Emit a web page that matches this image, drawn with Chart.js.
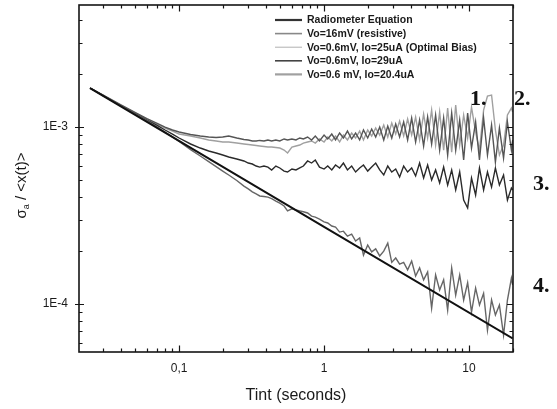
<!DOCTYPE html>
<html><head><meta charset="utf-8">
<script src="https://cdn.jsdelivr.net/npm/chart.js@4.4.0/dist/chart.umd.min.js"></script>
<style>html,body{margin:0;padding:0;background:#fff}#wrap{width:557px;height:409px}</style>
</head><body><div id="wrap"><canvas id="c" width="557" height="409"></canvas></div>
<script>
// integration times (s)
const tint = [0.0243, 0.03, 0.04, 0.05, 0.06, 0.07, 0.08, 0.09, 0.1, 0.12, 0.14, 0.16, 0.18, 0.2, 0.22, 0.25, 0.28,
  0.3, 0.32, 0.34, 0.36, 0.385, 0.41, 0.435, 0.465, 0.495, 0.53,
  0.56, 0.6, 0.64, 0.68, 0.72, 0.77, 0.82, 0.87, 0.93, 1.0,
  1.06, 1.13, 1.2, 1.28, 1.36, 1.45, 1.55, 1.65, 1.76, 1.87,
  2.0, 2.13, 2.27, 2.42, 2.58, 2.75, 2.93, 3.12, 3.32, 3.54,
  3.77, 4.02, 4.28, 4.56, 4.86, 5.18, 5.52, 5.88, 6.27, 6.68,
  7.12, 7.59, 8.09, 8.62, 9.18, 9.78, 10.4, 11.1, 11.8, 12.6,
  13.4, 14.3, 15.2, 16.2, 17.3, 18.4, 19.6, 20];

const radiometerT = [0.0243, 1, 20];
const radiometerEq = [1.661e-3, 2.73e-4, 6.4e-5];

const vo16 = [1.661e-3, 1.516e-3, 1.331e-3, 1.207e-3, 1.117e-3, 1.053e-3, 1.000e-3, 9.62e-4, 9.37e-4, 9.07e-4, 8.90e-4, 8.78e-4, 8.73e-4, 8.78e-4, 8.90e-4, 8.67e-4, 8.50e-4,
  8.45e-4, 8.34e-4, 8.34e-4, 8.40e-4, 8.34e-4, 8.45e-4, 8.34e-4, 8.45e-4, 8.34e-4, 8.56e-4,
  8.45e-4, 8.56e-4, 8.45e-4, 8.67e-4, 8.56e-4, 8.78e-4, 8.45e-4, 8.90e-4, 8.34e-4, 9.01e-4,
  8.56e-4, 9.13e-4, 8.45e-4, 9.25e-4, 8.67e-4, 9.49e-4, 8.56e-4, 9.25e-4, 8.45e-4, 9.62e-4,
  8.67e-4, 9.74e-4, 8.78e-4, 1.000e-3, 8.45e-4, 1.013e-3, 8.67e-4, 1.040e-3, 8.78e-4, 1.067e-3,
  8.45e-4, 1.124e-3, 8.23e-4, 1.095e-3, 7.81e-4, 1.139e-3, 8.02e-4, 1.169e-3, 7.41e-4, 1.124e-3,
  6.95e-4, 1.199e-3, 7.41e-4, 1.095e-3, 6.51e-4, 1.199e-3, 7.61e-4, 1.067e-3, 6.51e-4, 1.124e-3,
  6.95e-4, 1.026e-3, 6.34e-4, 9.87e-4, 6.68e-4, 1.067e-3, 7.41e-4, 8.45e-4];

const vo25 = [1.661e-3, 1.506e-3, 1.314e-3, 1.184e-3, 1.088e-3, 1.006e-3, 9.37e-4, 8.78e-4, 8.28e-4, 7.46e-4, 6.86e-4, 6.38e-4, 5.98e-4, 5.64e-4, 5.36e-4, 4.99e-4, 4.64e-4,
  4.47e-4, 4.30e-4, 4.19e-4, 4.08e-4, 4.05e-4, 4.02e-4, 3.94e-4, 3.82e-4, 3.72e-4, 3.58e-4,
  3.36e-4, 3.45e-4, 3.40e-4, 3.36e-4, 3.32e-4, 3.27e-4, 3.14e-4, 3.10e-4, 3.02e-4, 2.91e-4,
  2.87e-4, 2.76e-4, 2.72e-4, 2.55e-4, 2.58e-4, 2.42e-4, 2.48e-4, 2.27e-4, 2.36e-4, 1.89e-4,
  2.155e-4, 1.97e-4, 2.05e-4, 1.87e-4, 1.99e-4, 2.21e-4, 1.72e-4, 1.82e-4, 1.68e-4, 1.72e-4,
  1.56e-4, 1.75e-4, 1.44e-4, 1.60e-4, 1.37e-4, 1.52e-4, 9.49e-5, 1.46e-4, 1.20e-4, 1.37e-4,
  9.25e-5, 1.60e-4, 1.124e-4, 1.46e-4, 1.054e-4, 1.32e-4, 9.01e-5, 1.23e-4, 9.87e-5, 1.15e-4,
  7.13e-5, 1.054e-4, 8.67e-5, 9.87e-5, 6.68e-5, 1.054e-4, 1.40e-4, 1.28e-4];

const vo29 = [1.661e-3, 1.506e-3, 1.314e-3, 1.191e-3, 1.095e-3, 1.026e-3, 9.62e-4, 9.13e-4, 8.67e-4, 8.02e-4, 7.61e-4, 7.32e-4, 7.13e-4, 6.95e-4, 6.77e-4, 6.60e-4, 6.43e-4,
  6.26e-4, 6.18e-4, 6.02e-4, 5.94e-4, 6.02e-4, 5.94e-4, 5.72e-4, 6.02e-4, 5.87e-4, 5.64e-4,
  5.57e-4, 5.79e-4, 5.72e-4, 5.87e-4, 6.02e-4, 6.43e-4, 6.26e-4, 6.51e-4, 5.94e-4, 5.79e-4,
  6.02e-4, 5.72e-4, 6.10e-4, 5.87e-4, 6.26e-4, 5.72e-4, 6.02e-4, 5.57e-4, 5.87e-4, 6.10e-4,
  5.64e-4, 5.94e-4, 6.26e-4, 5.72e-4, 5.36e-4, 6.02e-4, 5.57e-4, 5.79e-4, 5.22e-4, 6.02e-4,
  5.57e-4, 5.87e-4, 5.29e-4, 6.26e-4, 5.15e-4, 6.10e-4, 5.02e-4, 5.72e-4, 4.83e-4, 5.94e-4,
  4.70e-4, 5.72e-4, 4.41e-4, 5.57e-4, 3.87e-4, 3.49e-4, 5.15e-4, 4.13e-4, 5.87e-4, 4.41e-4,
  5.57e-4, 4.58e-4, 5.87e-4, 4.70e-4, 5.36e-4, 3.87e-4, 4.52e-4, 4.41e-4];

const vo204 = [1.661e-3, 1.506e-3, 1.322e-3, 1.199e-3, 1.110e-3, 1.040e-3, 9.87e-4, 9.49e-4, 9.13e-4, 8.90e-4, 8.67e-4, 8.45e-4, 8.34e-4, 8.23e-4, 8.23e-4, 8.12e-4, 8.02e-4,
  7.96e-4, 7.91e-4, 7.86e-4, 7.81e-4, 7.76e-4, 7.71e-4, 7.71e-4, 7.66e-4, 7.61e-4, 7.41e-4,
  7.13e-4, 7.71e-4, 7.81e-4, 7.91e-4, 8.12e-4, 8.23e-4, 8.34e-4, 8.12e-4, 8.56e-4, 8.23e-4,
  8.78e-4, 8.34e-4, 8.90e-4, 8.23e-4, 9.01e-4, 8.45e-4, 9.25e-4, 8.67e-4, 9.49e-4, 8.45e-4,
  9.62e-4, 8.90e-4, 9.87e-4, 9.01e-4, 1.026e-3, 8.78e-4, 1.053e-3, 9.13e-4, 1.081e-3, 8.90e-4,
  1.110e-3, 9.01e-4, 1.139e-3, 8.45e-4, 1.184e-3, 8.67e-4, 1.247e-3, 7.91e-4, 1.215e-3, 7.41e-4,
  1.280e-3, 7.22e-4, 1.331e-3, 7.91e-4, 1.169e-3, 8.67e-4, 1.297e-3, 9.37e-4, 7.41e-4, 1.247e-3,
  1.497e-3, 1.516e-3, 9.62e-4, 6.95e-4, 7.91e-4, 1.169e-3, 1.280e-3, 1.215e-3];

const seriesLabels = ['Radiometer Equation', 'Vo=16mV (resistive)', 'Vo=0.6mV, Io=25uA (Optimal Bias)', 'Vo=0.6mV, Io=29uA', 'Vo=0.6 mV, Io=20.4uA'];
const xTickValues = [0.1, 1, 10];
const xTickLabels = ['0,1', '1', '10'];
const yTickValues = [1e-4, 1e-3];
const yTickLabels = ['1E-4', '1E-3'];
const xMinorTicks = [0.03, 0.04, 0.05, 0.06, 0.07, 0.08, 0.09, 0.2, 0.3, 0.4, 0.5, 0.6, 0.7, 0.8, 0.9, 2, 3, 4, 5, 6, 7, 8, 9, 20];
const yMinorTicks = [6e-5, 7e-5, 8e-5, 9e-5, 2e-4, 3e-4, 4e-4, 5e-4, 6e-4, 7e-4, 8e-4, 9e-4, 2e-3, 3e-3, 4e-3];
const curveNumbers = ['1.', '2.', '3.', '4.'];
const curveNumberLevels = [1.48e-3, 1.48e-3, 4.9e-4, 1.3e-4];

const pts = (xs, ys) => xs.map((x, i) => ({x: x, y: ys[i]}));

const styles = [
  {c: '#111111', w: 2.0, lw: 2.2, lc: '#333'},
  {c: '#555555', w: 1.4, lw: 1.6, lc: '#888'},
  {c: '#666666', w: 1.4, lw: 1.0, lc: '#b0b0b0'},
  {c: '#2a2a2a', w: 1.4, lw: 1.6, lc: '#444'},
  {c: '#a0a0a0', w: 1.4, lw: 2.2, lc: '#a0a0a0'}
];
const dataSets = [pts(radiometerT, radiometerEq), pts(tint, vo16), pts(tint, vo25), pts(tint, vo29), pts(tint, vo204)];

const FONT = '"Liberation Sans", Arial, sans-serif';

const framePlugin = {
  id: 'frame',
  afterDatasetsDraw(chart) {
    const {ctx, chartArea: a, scales: {x, y}} = chart;
    ctx.save();
    ctx.strokeStyle = '#151515';
    ctx.lineWidth = 1.6;
    ctx.strokeRect(a.left, a.top, a.right - a.left, a.bottom - a.top);
    ctx.lineWidth = 1.2;
    ctx.beginPath();
    xMinorTicks.forEach(v => {
      const p = Math.round(x.getPixelForValue(v)) + 0.5;
      ctx.moveTo(p, a.bottom); ctx.lineTo(p, a.bottom - 3.5);
      ctx.moveTo(p, a.top); ctx.lineTo(p, a.top + 3.5);
    });
    xTickValues.forEach(v => {
      const p = Math.round(x.getPixelForValue(v)) + 0.5;
      ctx.moveTo(p, a.bottom); ctx.lineTo(p, a.bottom - 6.5);
      ctx.moveTo(p, a.top); ctx.lineTo(p, a.top + 6.5);
    });
    yMinorTicks.forEach(v => {
      const p = Math.round(y.getPixelForValue(v)) + 0.5;
      ctx.moveTo(a.left, p); ctx.lineTo(a.left + 3.5, p);
      ctx.moveTo(a.right, p); ctx.lineTo(a.right - 3.5, p);
    });
    yTickValues.forEach(v => {
      const p = Math.round(y.getPixelForValue(v)) + 0.5;
      ctx.moveTo(a.left - 4, p); ctx.lineTo(a.left + 5, p);
      ctx.moveTo(a.right, p); ctx.lineTo(a.right - 6, p);
    });
    ctx.stroke();

    // legend
    const lx = a.left + 196, ly = a.top + 15, dy = 13.6;
    ctx.font = 'bold 10.5px ' + FONT;
    ctx.textBaseline = 'middle';
    ctx.textAlign = 'left';
    chart.data.datasets.forEach((ds, i) => {
      const yy = ly + i * dy;
      ctx.strokeStyle = styles[i].lc;
      ctx.lineWidth = styles[i].lw;
      ctx.beginPath(); ctx.moveTo(lx, yy); ctx.lineTo(lx + 27, yy); ctx.stroke();
      ctx.fillStyle = '#1a1a1a';
      ctx.fillText(ds.label, lx + 32, yy + 0.5);
    });

    // curve numbers
    ctx.font = 'bold 22px "Liberation Serif", "Times New Roman", serif';
    ctx.fillStyle = '#111';
    ctx.textBaseline = 'alphabetic';
    const nx = [a.right - 43, a.right + 1, a.right + 20, a.right + 20];
    curveNumbers.forEach((s, i) => {
      const py = y.getPixelForValue(curveNumberLevels[i]) + 8;
      ctx.fillText(s, nx[i], py);
    });

    // y title with subscript
    ctx.save();
    ctx.translate(26, (a.top + a.bottom) / 2 + 7);
    ctx.rotate(-Math.PI / 2);
    ctx.fillStyle = '#1a1a1a';
    ctx.textBaseline = 'alphabetic';
    ctx.textAlign = 'left';
    ctx.font = '15px ' + FONT;
    const part1 = '\u03C3', sub = 'a', part2 = ' / <x(t)>';
    const w1 = ctx.measureText(part1).width;
    ctx.font = '9px ' + FONT;
    const ws = ctx.measureText(sub).width;
    ctx.font = '15px ' + FONT;
    const w2 = ctx.measureText(part2).width;
    let sx = -(w1 + ws + w2) / 2;
    ctx.fillText(part1, sx, 0); sx += w1;
    ctx.font = '9px ' + FONT; ctx.fillText(sub, sx, 3); sx += ws;
    ctx.font = '15px ' + FONT; ctx.fillText(part2, sx, 0);
    ctx.restore();
    ctx.restore();
  }
};

new Chart(document.getElementById('c'), {
  type: 'line',
  data: {
    datasets: dataSets.map((d, i) => ({
      label: seriesLabels[i],
      data: d,
      borderColor: styles[i].c,
      borderWidth: styles[i].w,
      pointRadius: 0,
      tension: 0,
      fill: false
    }))
  },
  options: {
    responsive: false,
    animation: false,
    devicePixelRatio: 1,
    layout: {padding: {top: 5, right: 44, left: 0, bottom: 0}},
    plugins: {legend: {display: false}, tooltip: {enabled: false}},
    scales: {
      x: {
        type: 'logarithmic',
        min: 0.0204, max: 20.1,
        afterFit: s => { s.height = 57; s.paddingLeft = 0; s.paddingRight = 0; },
        afterBuildTicks: s => { s.ticks = xTickValues.map(v => ({value: v})); },
        ticks: {
          autoSkip: false, maxRotation: 0, padding: 9,
          color: '#1a1a1a', font: {family: FONT, size: 12},
          callback: v => { const i = xTickValues.indexOf(v); return i >= 0 ? xTickLabels[i] : ''; }
        },
        grid: {display: false, drawTicks: false},
        border: {display: false},
        title: {display: true, text: 'Tint (seconds)', color: '#1a1a1a', font: {family: FONT, size: 16}, padding: {top: 0, bottom: 4}}
      },
      y: {
        type: 'logarithmic',
        min: 5.36e-5, max: 4.89e-3,
        afterFit: s => { s.width = 79; s.paddingTop = 0; s.paddingBottom = 0; },
        afterBuildTicks: s => { s.ticks = yTickValues.map(v => ({value: v})); },
        ticks: {
          autoSkip: false, padding: 11,
          color: '#1a1a1a', font: {family: FONT, size: 12},
          callback: v => { const i = yTickValues.indexOf(v); return i >= 0 ? yTickLabels[i] : ''; }
        },
        grid: {display: false, drawTicks: false},
        border: {display: false}
      }
    }
  },
  plugins: [framePlugin]
});
</script>
</body></html>
